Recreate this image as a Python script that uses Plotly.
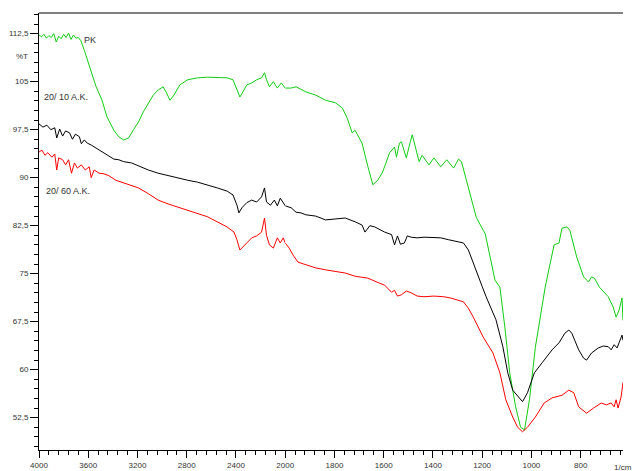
import plotly.graph_objects as go

# ---------------- data (wavenumber 1/cm, %T) ----------------
pk_wn = [4000, 3980, 3960, 3940, 3920, 3900, 3880, 3860, 3840, 3820, 3800, 3780, 3760, 3740, 3720,
         3700, 3680, 3660, 3632, 3592, 3536, 3488, 3448, 3392, 3352, 3312, 3272, 3232, 3192, 3152,
         3112, 3072, 3032, 2992, 2968, 2936, 2904, 2856, 2792, 2712, 2632, 2552, 2472, 2424, 2392,
         2368, 2344, 2312, 2272, 2232, 2192, 2168, 2152, 2128, 2096, 2064, 2032, 2000,
         1976, 1956, 1916, 1876, 1836, 1796, 1768, 1748, 1728, 1716, 1688, 1664, 1644, 1624, 1604,
         1576, 1556, 1548, 1536, 1528, 1508, 1492, 1484, 1468, 1456, 1444, 1416, 1396, 1368, 1344,
         1316, 1296, 1284, 1264, 1236, 1224, 1196, 1188, 1148, 1128, 1108, 1088, 1064, 1044, 1028,
         1008, 984, 944, 908, 888, 876, 856, 844, 816, 788, 768, 756, 744, 724, 688, 668, 656, 644,
         632, 628]
pk_t = [112.3, 112.0, 112.4, 111.8, 112.2, 111.9, 112.5, 111.2, 112.1, 111.7, 112.4, 111.9, 112.6, 111.6, 112.3,
        111.8, 111.9, 111.4, 109.9, 107.6, 104.2, 102.1, 99.5, 97.4, 96.4, 95.9, 96.2, 97.5, 98.7, 100.3,
        101.7, 102.9, 103.7, 104.2, 103.4, 102.1, 102.9, 104.5, 105.3, 105.6, 105.7, 105.6, 105.6, 105.3, 103.7,
        102.6, 103.4, 104.5, 104.8, 105.3, 105.6, 106.4, 105.3, 104.2, 105.0, 104.0, 104.8, 104.0,
        104.0, 104.2, 103.4, 102.9, 102.1, 101.7, 100.9, 99.3, 97.0, 97.4, 95.4, 91.7, 88.9, 89.6, 90.9,
        93.9, 94.8, 93.2, 95.4, 95.6, 93.1, 95.6, 96.7, 94.3, 92.5, 93.5, 92.0, 93.1, 91.7, 92.8,
        91.5, 92.9, 92.5, 89.6, 85.4, 83.8, 81.8, 81.3, 74.0, 72.9, 66.7, 59.5, 54.2, 51.0, 50.6,
        55.3, 63.5, 72.9, 79.5, 79.8, 82.1, 82.3, 81.8, 77.6, 74.5, 73.7, 74.5, 74.3, 72.9, 71.4, 69.8, 68.2, 69.3,
        71.2, 67.7]

ak10_wn = [4000, 3968, 3936, 3904, 3872, 3856, 3832, 3808, 3784, 3752, 3728, 3704, 3672, 3656, 3632,
           3608, 3576, 3552, 3512, 3472, 3432, 3392, 3352, 3312, 3248, 3192, 3112, 3032, 2952, 2872,
           2792, 2712, 2632, 2552, 2472, 2424, 2392, 2376, 2352, 2312, 2272, 2232, 2192, 2168, 2152,
           2120, 2088, 2064, 2040, 2016, 2000,
           1976, 1956, 1936, 1916, 1876, 1836, 1796, 1756, 1716, 1688, 1676, 1656, 1636, 1596, 1568,
           1556, 1544, 1532, 1516, 1504, 1488, 1464, 1436, 1396, 1368, 1336, 1304, 1276, 1256, 1240,
           1224, 1200, 1184, 1144, 1116, 1096, 1076, 1048, 1036, 1016, 988, 956, 916, 888, 864, 848,
           836, 808, 788, 776, 756, 728, 708, 688, 676, 664, 652, 644, 636, 632, 628]
ak10_t = [98.4, 97.9, 98.2, 97.5, 97.8, 96.2, 97.6, 96.5, 97.3, 97.0, 96.0, 96.8, 96.4, 95.3, 95.9,
          95.4, 95.1, 94.8, 94.3, 93.9, 93.4, 92.9, 92.8, 92.5, 92.3, 91.8, 91.2, 90.7, 90.3, 90.0,
          89.6, 89.3, 88.9, 88.4, 87.9, 87.3, 85.7, 84.5, 85.3, 86.1, 86.5, 86.2, 87.0, 88.4, 86.2,
          85.7, 86.5, 85.6, 86.8, 86.1, 85.6,
          85.3, 84.6, 84.5, 84.2, 84.0, 83.4, 83.6, 83.7, 83.1, 82.6, 81.5, 82.5, 82.3, 81.5, 81.1,
          79.5, 80.9, 79.6, 79.8, 80.9, 80.7, 80.6, 80.7, 80.6, 80.6, 80.3, 80.0, 79.8, 78.7, 77.0,
          75.6, 73.0, 71.4, 67.8, 63.6, 59.5, 56.8, 55.6, 55.0, 56.4, 59.5, 61.1, 63.1, 64.2, 65.7, 66.2,
          65.7, 63.1, 61.8, 61.5, 62.6, 63.4, 63.7, 63.6, 63.1, 63.9, 63.4, 64.2, 65.1, 65.4, 64.6]

ak60_wn = [4000, 3976, 3952, 3928, 3896, 3872, 3856, 3840, 3808, 3784, 3760, 3736, 3712, 3688, 3656,
           3624, 3592, 3576, 3552, 3512, 3472, 3432, 3376, 3312, 3248, 3192, 3112, 3032, 2952, 2872,
           2792, 2712, 2632, 2552, 2472, 2416, 2392, 2368, 2344, 2312, 2272, 2232, 2192, 2168, 2152,
           2128, 2096, 2064, 2040, 2016, 2000,
           1984, 1968, 1948, 1916, 1876, 1836, 1796, 1756, 1716, 1664, 1616, 1596, 1568, 1556, 1544,
           1528, 1508, 1488, 1464, 1436, 1396, 1356, 1328, 1296, 1276, 1256, 1236, 1196, 1156, 1128,
           1104, 1076, 1056, 1036, 1016, 984, 948, 916, 876, 848, 828, 808, 776, 748, 716, 696, 676,
           664, 656, 648, 636, 632, 628]
ak60_t = [94.0, 94.3, 93.5, 93.9, 93.2, 93.7, 91.2, 93.1, 92.8, 92.0, 92.8, 90.7, 92.3, 91.5, 92.0,
          91.2, 91.7, 90.0, 91.2, 90.7, 90.6, 90.3, 89.6, 89.2, 88.7, 88.4, 87.5, 86.5, 85.9, 85.4,
          84.9, 84.5, 83.9, 83.1, 82.3, 81.5, 80.3, 78.7, 79.2, 79.9, 80.6, 80.9, 81.5, 83.7, 81.0,
          79.5, 79.0, 80.6, 79.8, 80.6, 79.8,
          79.0, 77.9, 76.8, 76.4, 75.9, 75.6, 75.3, 75.1, 74.6, 74.3, 73.5, 73.2, 72.1, 72.4, 71.5,
          71.7, 72.3, 72.0, 71.5, 71.4, 71.5, 71.4, 71.2, 70.9, 70.6, 69.6, 68.2, 65.1, 62.6, 59.5,
          55.3, 52.6, 51.0, 50.3, 51.0, 52.6, 54.8, 55.6, 56.0, 56.8, 56.4, 54.2, 53.2, 54.0, 54.8, 54.5, 54.8,
          54.2, 55.3, 54.0, 55.7, 56.8, 58.0]

y_ticks = [52.5, 60, 67.5, 75, 82.5, 90, 97.5, 105, 112.5]
y_labels = ["52,5", "60", "67,5", "75", "82,5", "90", "97,5", "105", "112,5"]
x_ticks_left = [4000, 3600, 3200, 2800, 2400, 2000]
x_ticks_right = [1800, 1600, 1400, 1200, 1000, 800]

series = [("PK", pk_wn, pk_t, "#11CC11"),
          ("20/10 A.K.", ak10_wn, ak10_t, "#000000"),
          ("20/60 A.K.", ak60_wn, ak60_t, "#FF0000")]

# ---------------- figure ----------------
W, H = 632, 471
ML, MR, MT, MB = 39, 0, 13, 21
split = 250 / (W - ML - MR)

fig = go.Figure()
for name, wn, t, col in series:
    lx = [w for w in wn if w >= 2000]
    ly = [v for w, v in zip(wn, t) if w >= 2000]
    rx = [w for w in wn if w <= 2000]
    ry = [v for w, v in zip(wn, t) if w <= 2000]
    fig.add_trace(go.Scatter(x=lx, y=ly, mode="lines", line=dict(color=col, width=1),
                             name=name, showlegend=False, xaxis="x", yaxis="y"))
    fig.add_trace(go.Scatter(x=rx, y=ry, mode="lines", line=dict(color=col, width=1),
                             name=name, showlegend=False, xaxis="x2", yaxis="y"))

tickfont = dict(family="Liberation Sans, Arial, sans-serif", size=8, color="#333333")

fig.update_layout(
    width=W, height=H,
    margin=dict(l=ML, r=MR, t=MT, b=MB),
    paper_bgcolor="white", plot_bgcolor="white",
    font=tickfont,
    xaxis=dict(domain=[0, split], range=[4000, 2000], tickvals=x_ticks_left,
               ticktext=[str(v) for v in x_ticks_left],
               ticks="outside", ticklen=7, tickwidth=1, tickcolor="black",
               minor=dict(ticks="outside", ticklen=4, dtick=80, tick0=4000, tickcolor="black"),
               showline=True, linecolor="black", linewidth=1, showgrid=False, zeroline=False,
               tickfont=tickfont, anchor="y"),
    xaxis2=dict(domain=[split, 1], range=[2000, 628], tickvals=x_ticks_right,
                ticktext=[str(v) for v in x_ticks_right],
                ticks="outside", ticklen=7, tickwidth=1, tickcolor="black",
                minor=dict(ticks="outside", ticklen=4, dtick=40, tick0=2000, tickcolor="black"),
                showline=True, linecolor="black", linewidth=1, showgrid=False, zeroline=False,
                tickfont=tickfont, anchor="y"),
    yaxis=dict(range=[47.45, 115.73], tickvals=y_ticks, ticktext=y_labels,
               ticks="outside", ticklen=8, tickwidth=1, tickcolor="black",
               minor=dict(ticks="outside", ticklen=4, dtick=1.5, tick0=0, tickcolor="black"),
               showline=True, linecolor="black", linewidth=1, showgrid=False, zeroline=False,
               tickfont=tickfont),
)

# top frame line
fig.add_shape(type="line", xref="paper", yref="paper", x0=0, x1=1, y0=1, y1=1,
              line=dict(color="#808080", width=2))

lbl = dict(family="Liberation Sans, Arial, sans-serif", size=9, color="#333333")
fig.add_annotation(x=3648, y=111.5, xref="x", yref="y", text="PK", showarrow=False,
                   xanchor="left", yanchor="middle", font=lbl)
fig.add_annotation(x=3976, y=102.6, xref="x", yref="y", text="20/ 10 A.K.", showarrow=False,
                   xanchor="left", yanchor="middle", font=lbl)
fig.add_annotation(x=3960, y=87.9, xref="x", yref="y", text="20/ 60 A.K.", showarrow=False,
                   xanchor="left", yanchor="middle", font=lbl)
fig.add_annotation(x=-17 / (W - ML - MR), y=108.86, xref="paper", yref="y", text="%T",
                   showarrow=False, xanchor="center", yanchor="middle", font=tickfont)
fig.add_annotation(x=0, y=-23 / (H - MT - MB), xref="paper", yref="paper", text="FTIR Measurement",
                   showarrow=False, xanchor="left", yanchor="middle",
                   font=dict(family="Liberation Sans, Arial, sans-serif", size=8, color="#FF3333"))
fig.add_annotation(x=(621 - ML) / (W - ML - MR), y=-17 / (H - MT - MB), xref="paper", yref="paper",
                   text="1/cm", showarrow=False, xanchor="left", yanchor="middle", font=tickfont)

fig.write_html("out.html", config={"displayModeBar": False},
               post_script="document.body.style.margin='0';document.body.style.overflow='hidden';")
